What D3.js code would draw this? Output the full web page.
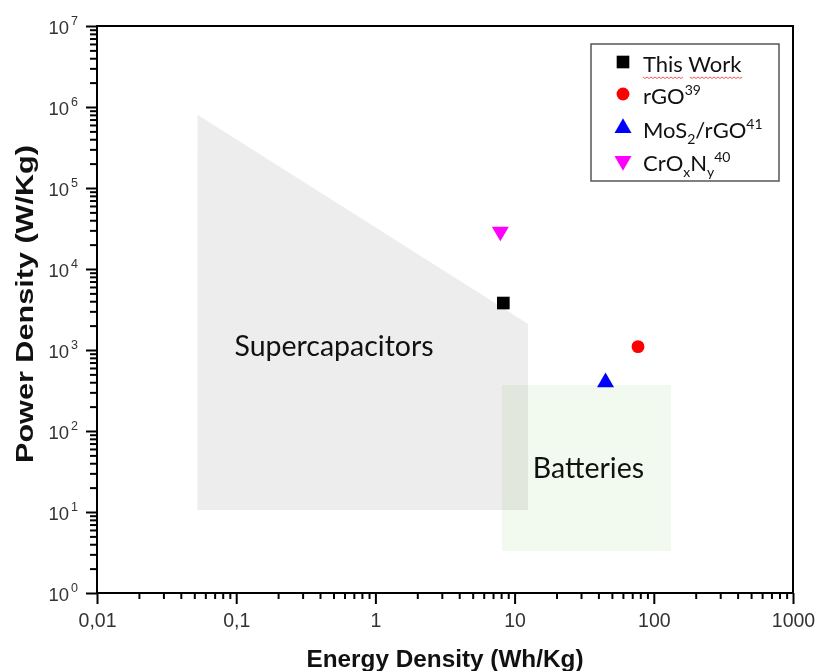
<!DOCTYPE html>
<html><head><meta charset="utf-8">
<script src="https://cdn.jsdelivr.net/npm/d3@7"></script>
<style>body{margin:0;background:#fff}svg{display:block}</style>
</head><body>
<svg id="c" width="816" height="671"></svg>
<script>
// ---- data ----
const seriesNames = ["This Work", "rGO", "MoS2/rGO", "CrOxNy"];
const energy = [8.3, 77, 45, 7.9];          // Wh/Kg
const power  = [3800, 1100, 400, 29000];    // W/Kg
const colors = ["#000000", "#ff0000", "#0000ff", "#ff00ff"];
const shapes = ["square", "circle", "triangle", "triangleDown"];

const superEnergy = [0.0527, 12.5, 12.5, 0.0527];
const superPower  = [8e5, 2100, 10.6, 10.6];
const battEnergy  = [8.1, 133];
const battPower   = [3.3, 370];

const xTickValues = [0.01, 0.1, 1, 10, 100, 1000];
const xTickLabels = ["0,01", "0,1", "1", "10", "100", "1000"];
const yTickExps   = [0, 1, 2, 3, 4, 5, 6, 7];

// ---- scales ----
const svg = d3.select("#c");
const x = d3.scaleLog().domain([0.01, 1000]).range([97, 793]);
const y = d3.scaleLog().domain([1, 1e7]).range([593, 26]);

// regions
const superPts = superEnergy.map((e, i) => [x(e), y(superPower[i])]);
svg.append("path").attr("d", "M" + superPts.join("L") + "Z").attr("fill", "#ededed");
svg.append("rect")
  .attr("x", x(battEnergy[0])).attr("width", x(battEnergy[1]) - x(battEnergy[0]))
  .attr("y", y(battPower[1])).attr("height", y(battPower[0]) - y(battPower[1]))
  .attr("fill", "#f2f9ee").style("mix-blend-mode", "multiply");

const labelFont = "Lato, 'Open Sans', sans-serif";
svg.append("text").attr("x", x(0.0527) + 37).attr("y", 356)
  .attr("font-family", labelFont).attr("font-size", 28.5).attr("fill", "#111")
  .text("Supercapacitors");
svg.append("text").attr("x", x(battEnergy[0]) + 31).attr("y", 478)
  .attr("font-family", labelFont).attr("font-size", 28.5).attr("fill", "#111")
  .text("Batteries");

// ---- axes ----
const xMinor = [], yMinor = [];
for (let d = -2; d < 3; d++) for (let k = 2; k <= 9; k++) xMinor.push(k * Math.pow(10, d));
for (let d = 0; d < 7; d++) for (let k = 2; k <= 9; k++) yMinor.push(k * Math.pow(10, d));

const xAxisMinor = d3.axisBottom(x).tickValues(xMinor).tickSize(6).tickFormat("");
const xAxisMajor = d3.axisBottom(x).tickValues(xTickValues).tickSize(11).tickFormat((d, i) => xTickLabels[i]);
const yAxisMinor = d3.axisLeft(y).tickValues(yMinor).tickSize(7).tickFormat("");
const yAxisMajor = d3.axisLeft(y).tickValues(yTickExps.map(e => Math.pow(10, e))).tickSize(11).tickFormat("");

function styleAxis(g) {
  g.select(".domain").remove();
  g.selectAll(".tick line").attr("stroke", "#000").attr("stroke-width", 2);
}
svg.append("g").attr("transform", "translate(0,593)").call(xAxisMinor).call(styleAxis);
const gx = svg.append("g").attr("transform", "translate(0,593)").call(xAxisMajor).call(styleAxis);
gx.selectAll(".tick text").attr("y", 20).attr("dy", 0).attr("font-family", "Arial, 'Liberation Sans', sans-serif")
  .attr("font-size", 19.5).attr("fill", "#333").attr("dominant-baseline", "hanging");
svg.append("g").attr("transform", "translate(97,0)").call(yAxisMinor).call(styleAxis);
const gy = svg.append("g").attr("transform", "translate(97,0)").call(yAxisMajor).call(styleAxis);
gy.selectAll(".tick").each(function(d) {
  const e = Math.round(Math.log10(d));
  const t = d3.select(this).append("text").attr("x", -19).attr("y", 7)
    .attr("text-anchor", "end").attr("font-family", "Arial, 'Liberation Sans', sans-serif")
    .attr("font-size", 18.5).attr("fill", "#333");
  t.append("tspan").text("10");
  t.append("tspan").attr("font-size", 12.5).attr("dy", -9).attr("dx", 2).text(e);
});

// frame
svg.append("path")
  .attr("d", `M${x(0.01)},${y(1)}H${x(1000)}V${y(1e7)}H${x(0.01)}Z`)
  .attr("fill", "none").attr("stroke", "#000").attr("stroke-width", 2);

// axis titles
svg.append("text").attr("x", 445).attr("y", 667).attr("text-anchor", "middle")
  .attr("font-family", "Arial, 'Liberation Sans', sans-serif").attr("font-weight", "bold")
  .attr("font-size", 23).attr("fill", "#111")
  .attr("textLength", 277).attr("lengthAdjust", "spacingAndGlyphs")
  .text("Energy Density (Wh/Kg)");
svg.append("text").attr("transform", "translate(33,304) rotate(-90)").attr("text-anchor", "middle")
  .attr("font-family", "Arial, 'Liberation Sans', sans-serif").attr("font-weight", "bold")
  .attr("font-size", 24).attr("fill", "#111")
  .attr("textLength", 318).attr("lengthAdjust", "spacingAndGlyphs")
  .text("Power Density (W/Kg)");

// ---- markers ----
function symFor(s) {
  if (s === "square") return d3.symbol(d3.symbolSquare, 160)();
  if (s === "circle") return d3.symbol(d3.symbolCircle, 130)();
  return d3.symbol(d3.symbolTriangle, 125)();
}
energy.forEach((e, i) => {
  svg.append("path").attr("d", symFor(shapes[i]))
    .attr("transform", `translate(${x(e)},${y(power[i])})` + (shapes[i] === "triangleDown" ? " rotate(180)" : ""))
    .attr("fill", colors[i]);
});

// ---- legend ----
const lg = svg.append("g");
lg.append("rect").attr("x", 591).attr("y", 44).attr("width", 188).attr("height", 137)
  .attr("fill", "#fff").attr("stroke", "#555").attr("stroke-width", 1.5);
const rowY = [62, 94, 128, 161];
const legendText = [
  [["This Work", 0]],
  [["rGO", 0], ["39", 1]],
  [["MoS", 0], ["2", -1], ["/rGO", 0], ["41", 1]],
  [["CrO", 0], ["x", -1], ["N", 0], ["y", -1], ["40", 1]]
];
seriesNames.forEach((n, i) => {
  lg.append("path").attr("d", symFor(shapes[i]))
    .attr("transform", `translate(623,${rowY[i]})` + (shapes[i] === "triangleDown" ? " rotate(180)" : ""))
    .attr("fill", colors[i]);
  const t = lg.append("text").attr("x", 643).attr("y", rowY[i] + 10)
    .attr("font-family", labelFont).attr("font-size", 22).attr("fill", "#111");
  let prev = 0;
  legendText[i].forEach(([s, lvl]) => {
    const off = lvl === 1 ? -9 : lvl === -1 ? 6 : 0;
    t.append("tspan").attr("dy", off - prev).attr("font-size", lvl === 0 ? 22 : 14).text(s);
    prev = off;
  });
});
// spell-check wavy underline under "This Work"
function wavy(x0, x1, yy) {
  let d = `M${x0},${yy}`;
  for (let xx = x0, k = 0; xx < x1; xx += 2, k++) d += `L${xx + 2},${yy + (k % 2 ? 0 : 1.5)}`;
  return d;
}
lg.append("path").attr("d", wavy(643, 683, 77)).attr("fill", "none").attr("stroke", "#e33").attr("stroke-width", 0.8);
lg.append("path").attr("d", wavy(690, 742, 77)).attr("fill", "none").attr("stroke", "#e33").attr("stroke-width", 0.8);
</script>
</body></html>
